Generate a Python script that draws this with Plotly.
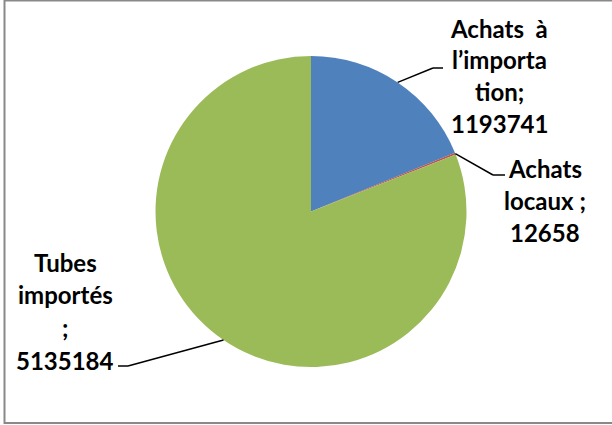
import math
import plotly.graph_objects as go

# ---- data ----
categories = ["Achats à l'importation", "Achats locaux", "Tubes importés"]
values = [1193741, 12658, 5135184]
colors = ["#4F81BD", "#C0504D", "#9BBB59"]
label_lines = [
    ["Achats  à", "l\u2019importa", "tion;", "1193741"],
    ["Achats", "locaux ;", "12658"],
    ["Tubes", "importés", ";", "5135184"],
]

# ---- layout constants (pixels) ----
W, H = 612, 425
CX, CY, R = 311, 211.5, 155.5
FONT = dict(family="Lato, 'Open Sans', sans-serif", size=24, color="#000000", weight=700)

# label block positions: (center x, first-line y, line step)
label_pos = [
    (499, 28, 31.7),
    (545, 168, 32),
    (65, 262, 32.7),
]
# leader elbow points: (elbow x, elbow y, end x of horizontal segment)
elbows = [
    (433, 68, 443),
    (493, 175, 505),
    (128, 366, 118),
]


def px(x):
    return x / W


def py(y):
    return 1 - y / H


fig = go.Figure()
fig.add_trace(go.Pie(
    labels=categories,
    values=values,
    marker=dict(colors=colors, line=dict(width=0)),
    sort=False,
    direction="clockwise",
    rotation=0,
    textinfo="none",
    hoverinfo="skip",
    domain=dict(x=[px(CX - R), px(CX + R)], y=[py(CY + R), py(CY - R)]),
))

shapes = []
annotations = []
total = sum(values)
cum = 0
for i, v in enumerate(values):
    mid = (cum + v / 2) / total * 2 * math.pi
    cum += v
    sx = CX + R * math.sin(mid)
    sy = CY - R * math.cos(mid)
    ex, ey, hx = elbows[i]
    shapes.append(dict(type="line", xref="paper", yref="paper",
                       x0=px(sx), y0=py(sy), x1=px(ex), y1=py(ey),
                       line=dict(color="black", width=1.5)))
    shapes.append(dict(type="line", xref="paper", yref="paper",
                       x0=px(ex), y0=py(ey), x1=px(hx), y1=py(ey),
                       line=dict(color="black", width=1.5)))
    lx, ly, step = label_pos[i]
    for j, t in enumerate(label_lines[i]):
        annotations.append(dict(
            text=t, xref="paper", yref="paper",
            x=px(lx), y=py(ly + j * step), xanchor="center", yanchor="middle",
            showarrow=False, font=FONT))

shapes.append(dict(type="rect", xref="paper", yref="paper",
                   x0=px(4.5), x1=px(W + 5), y0=py(423), y1=py(0.5),
                   line=dict(color="#898989", width=2)))

fig.update_layout(
    width=W, height=H,
    margin=dict(l=0, r=0, t=0, b=0),
    paper_bgcolor="white", plot_bgcolor="white",
    showlegend=False,
    shapes=shapes,
    annotations=annotations,
)

fig.write_html("out.html", config={"displayModeBar": False})
